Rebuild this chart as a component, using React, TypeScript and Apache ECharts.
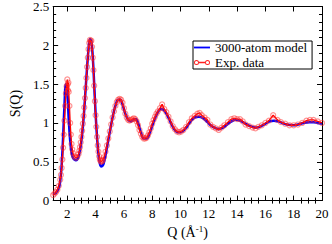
import React, { useEffect, useRef } from "react";
import * as echarts from "echarts";

const modelQ = [1.0, 1.2, 1.4, 1.5, 1.6, 1.7, 1.8, 1.9, 2.0, 2.1, 2.2, 2.3, 2.4, 2.5, 2.6, 2.7, 2.8, 2.9, 3.0, 3.1, 3.2, 3.3, 3.4, 3.5, 3.6, 3.7, 3.8, 3.9, 4.0, 4.1, 4.2, 4.3, 4.4, 4.5, 4.6, 4.7, 4.8, 5.0, 5.2, 5.4, 5.6, 5.75, 5.9, 6.1, 6.3, 6.5, 6.7, 6.85, 7.0, 7.2, 7.4, 7.6, 7.8, 8.0, 8.2, 8.4, 8.6, 8.8, 9.0, 9.2, 9.4, 9.6, 9.8, 10.0, 10.2, 10.4, 10.6, 10.8, 11.0, 11.3, 11.6, 11.9, 12.2, 12.5, 12.7, 13.0, 13.3, 13.6, 13.9, 14.2, 14.5, 14.8, 15.1, 15.4, 15.7, 16.0, 16.3, 16.6, 16.9, 17.2, 17.5, 17.9, 18.3, 18.7, 19.1, 19.4, 19.7, 20.0];
const modelS = [0.08, 0.10, 0.16, 0.25, 0.45, 0.80, 1.22, 1.50, 1.40, 1.05, 0.78, 0.62, 0.55, 0.53, 0.52, 0.53, 0.57, 0.65, 0.78, 0.95, 1.18, 1.45, 1.72, 1.95, 2.08, 2.05, 1.85, 1.50, 1.12, 0.82, 0.60, 0.48, 0.44, 0.45, 0.50, 0.58, 0.68, 0.88, 1.07, 1.22, 1.30, 1.30, 1.24, 1.12, 1.04, 1.02, 1.04, 1.05, 1.00, 0.88, 0.80, 0.80, 0.86, 0.96, 1.06, 1.14, 1.18, 1.17, 1.12, 1.05, 0.97, 0.91, 0.88, 0.88, 0.90, 0.94, 0.99, 1.04, 1.07, 1.08, 1.06, 1.01, 0.96, 0.93, 0.92, 0.94, 0.98, 1.02, 1.04, 1.03, 1.00, 0.97, 0.95, 0.94, 0.96, 0.99, 1.02, 1.03, 1.02, 1.00, 0.98, 0.97, 0.98, 1.00, 1.01, 1.01, 1.00, 0.99];

const expQ = [1.0, 1.1, 1.2, 1.3, 1.4, 1.5, 1.55, 1.6, 1.65, 1.7, 1.75, 1.8, 1.85, 1.9, 1.95, 2.0, 2.03, 2.05, 2.08, 2.1, 2.15, 2.2, 2.25, 2.3, 2.35, 2.4, 2.5, 2.6, 2.7, 2.8, 2.85, 2.9, 2.95, 3.0, 3.05, 3.1, 3.15, 3.2, 3.25, 3.3, 3.35, 3.4, 3.45, 3.5, 3.55, 3.6, 3.65, 3.7, 3.75, 3.8, 3.85, 3.9, 3.95, 4.0, 4.05, 4.1, 4.15, 4.2, 4.25, 4.3, 4.35, 4.4, 4.45, 4.5, 4.6, 4.7, 4.8, 4.9, 5.0, 5.1, 5.2, 5.3, 5.4, 5.5, 5.6, 5.7, 5.8, 5.9, 6.0, 6.1, 6.2, 6.3, 6.4, 6.5, 6.6, 6.7, 6.8, 6.9, 7.0, 7.1, 7.2, 7.3, 7.4, 7.5, 7.6, 7.7, 7.8, 7.9, 8.0, 8.1, 8.2, 8.3, 8.4, 8.55, 8.7, 8.85, 9.0, 9.15, 9.3, 9.45, 9.6, 9.75, 9.9, 10.05, 10.2, 10.4, 10.6, 10.8, 11.0, 11.2, 11.35, 11.5, 11.7, 11.9, 12.1, 12.3, 12.5, 12.7, 12.9, 13.1, 13.35, 13.6, 13.8, 14.0, 14.2, 14.4, 14.6, 14.85, 15.1, 15.3, 15.5, 15.75, 16.0, 16.25, 16.55, 16.85, 17.1, 17.4, 17.7, 18.0, 18.3, 18.6, 18.9, 19.15, 19.4, 19.7, 20.0];
const expS = [0.07, 0.09, 0.11, 0.14, 0.19, 0.27, 0.33, 0.42, 0.53, 0.68, 0.85, 1.03, 1.22, 1.38, 1.47, 1.56, 1.50, 1.42, 1.52, 1.40, 1.22, 1.00, 0.85, 0.73, 0.66, 0.61, 0.57, 0.55, 0.56, 0.60, 0.64, 0.69, 0.75, 0.82, 0.90, 0.99, 1.09, 1.20, 1.32, 1.45, 1.58, 1.72, 1.84, 1.95, 2.03, 2.07, 2.05, 2.06, 1.98, 1.84, 1.68, 1.48, 1.28, 1.10, 0.95, 0.82, 0.71, 0.63, 0.57, 0.53, 0.51, 0.50, 0.51, 0.52, 0.56, 0.63, 0.71, 0.80, 0.89, 0.98, 1.07, 1.15, 1.22, 1.27, 1.30, 1.31, 1.30, 1.26, 1.19, 1.12, 1.07, 1.04, 1.03, 1.04, 1.05, 1.06, 1.05, 1.02, 0.97, 0.91, 0.86, 0.82, 0.80, 0.80, 0.81, 0.84, 0.88, 0.93, 0.99, 1.04, 1.08, 1.12, 1.15, 1.19, 1.24, 1.18, 1.14, 1.08, 1.02, 0.96, 0.92, 0.89, 0.88, 0.89, 0.91, 0.95, 1.01, 1.06, 1.09, 1.12, 1.13, 1.10, 1.07, 1.04, 0.98, 0.95, 0.93, 0.91, 0.94, 0.97, 1.01, 1.05, 1.06, 1.05, 1.05, 1.02, 0.98, 0.96, 0.94, 0.93, 0.95, 0.97, 1.00, 1.03, 1.10, 1.04, 1.01, 0.99, 0.97, 0.97, 0.98, 1.00, 1.03, 1.04, 1.04, 1.02, 1.00];

const xMajorTicks = [2, 4, 6, 8, 10, 12, 14, 16, 18, 20];
const xMinorTicks: number[] = [];
for (let v = 1.5; v < 20; v += 0.5) {
  if (Math.abs(v / 2 - Math.round(v / 2)) > 1e-6) xMinorTicks.push(v);
}

const FONT = "'Liberation Serif', 'DejaVu Serif', serif";

// legend icons drawn in a 16x8 box (corner points included to fix the box)
const ICON_LINE = "path://M0,0 L0,0 M0,3.1 L16,3.1 L16,4.9 L0,4.9 Z M16,8 L16,8";
const ICON_EXP =
  "path://M0,0 L0,0 M16,8 L16,8 " +
  "M0,4 A2.5,2.5 0 1,1 5,4 A2.5,2.5 0 1,1 0,4 Z M0.9,4 A1.6,1.6 0 1,0 4.1,4 A1.6,1.6 0 1,0 0.9,4 Z " +
  "M11,4 A2.5,2.5 0 1,1 16,4 A2.5,2.5 0 1,1 11,4 Z M11.9,4 A1.6,1.6 0 1,0 15.1,4 A1.6,1.6 0 1,0 11.9,4 Z " +
  "M5,3.3 L11,3.3 L11,4.7 L5,4.7 Z";

export default function App() {
  const ref = useRef<HTMLDivElement>(null);
  useEffect(() => {
    if (!ref.current) return;
    const chart = echarts.init(ref.current, null, { renderer: "svg" });
    const line = { lineStyle: { color: "#000", width: 1 } };
    const xBase = {
      type: "value",
      min: 1,
      max: 20,
      splitLine: { show: false },
      axisLine: { show: true, onZero: false, ...line },
    };
    const yBase = {
      type: "value",
      min: 0,
      max: 2.5,
      interval: 0.5,
      splitLine: { show: false },
      axisLine: { show: true, onZero: false, ...line },
      axisTick: { show: true, inside: true, length: 5, ...line },
      minorTick: { show: true, splitNumber: 5, length: 3, ...line },
    };
    chart.setOption({
      animation: false,
      backgroundColor: "#fff",
      grid: { left: 33, top: 6, right: 10, bottom: 36, containLabel: false },
      legend: {
        show: true,
        data: [
          { name: "3000-atom model", icon: ICON_LINE, itemStyle: { color: "#0000ff", borderWidth: 0 } },
          { name: "Exp. data", icon: ICON_EXP, itemStyle: { color: "#ff2020", borderWidth: 0 } },
        ],
        orient: "vertical",
        left: 193,
        top: 41,
        padding: [0, 5, 0, 1],
        itemGap: 2,
        itemWidth: 16,
        itemHeight: 8,
        borderColor: "#000",
        borderWidth: 1,
        borderRadius: 0,
        backgroundColor: "#fff",
        textStyle: { fontFamily: FONT, fontSize: 13, lineHeight: 13, color: "#000" },
      },
      xAxis: [
        {
          ...xBase,
          position: "bottom",
          name: "{a|Q (Å}{s|-1}{a|)}",
          nameLocation: "middle",
          nameGap: 20,
          nameTextStyle: {
            rich: {
              a: { fontFamily: FONT, fontSize: 14, color: "#000" },
              s: { fontFamily: FONT, fontSize: 9, color: "#000", verticalAlign: "top", padding: [0, 0, 6, 0] },
            },
          },
          axisTick: { show: true, inside: true, length: 5, customValues: xMajorTicks, ...line },
          axisLabel: { show: true, customValues: xMajorTicks, margin: 6, fontFamily: FONT, fontSize: 13, color: "#000" },
        },
        {
          ...xBase,
          position: "bottom",
          axisLine: { show: false },
          axisTick: { show: true, inside: true, length: 3, customValues: xMinorTicks, ...line },
          axisLabel: { show: false },
        },
        {
          ...xBase,
          position: "top",
          axisTick: { show: true, inside: true, length: 5, customValues: xMajorTicks, ...line },
          axisLabel: { show: false },
        },
        {
          ...xBase,
          position: "top",
          axisLine: { show: false },
          axisTick: { show: true, inside: true, length: 3, customValues: xMinorTicks, ...line },
          axisLabel: { show: false },
        },
      ],
      yAxis: [
        {
          ...yBase,
          position: "left",
          name: "S(Q)",
          nameLocation: "middle",
          nameGap: 22,
          nameRotate: 90,
          nameTextStyle: { fontFamily: FONT, fontSize: 14, color: "#000" },
          axisLabel: { show: true, margin: 4, fontFamily: FONT, fontSize: 13, color: "#000" },
        },
        {
          ...yBase,
          position: "right",
          axisLabel: { show: false },
        },
      ],
      series: [
        {
          name: "3000-atom model",
          type: "line",
          xAxisIndex: 0,
          yAxisIndex: 0,
          data: modelQ.map((q, i) => [q, modelS[i]]),
          smooth: 0.4,
          showSymbol: false,
          symbol: "none",
          color: "#0000ff",
          lineStyle: { color: "#0000ff", width: 2.5 },
          z: 2,
        },
        {
          name: "Exp. data",
          type: "line",
          xAxisIndex: 0,
          yAxisIndex: 0,
          data: expQ.map((q, i) => [q, expS[i]]),
          symbol: "circle",
          symbolSize: 5,
          showSymbol: true,
          color: "#ff0000",
          itemStyle: { color: "rgba(255,255,255,0)", borderColor: "rgba(255,40,40,0.5)", borderWidth: 1.2 },
          lineStyle: { color: "#ff0000", width: 1.4 },
          z: 3,
        },
      ],
    });
    return () => chart.dispose();
  }, []);
  return (
    <div
      ref={ref}
      style={{ position: "fixed", left: 0, top: 0, width: 332, height: 244, background: "#fff" }}
    />
  );
}
